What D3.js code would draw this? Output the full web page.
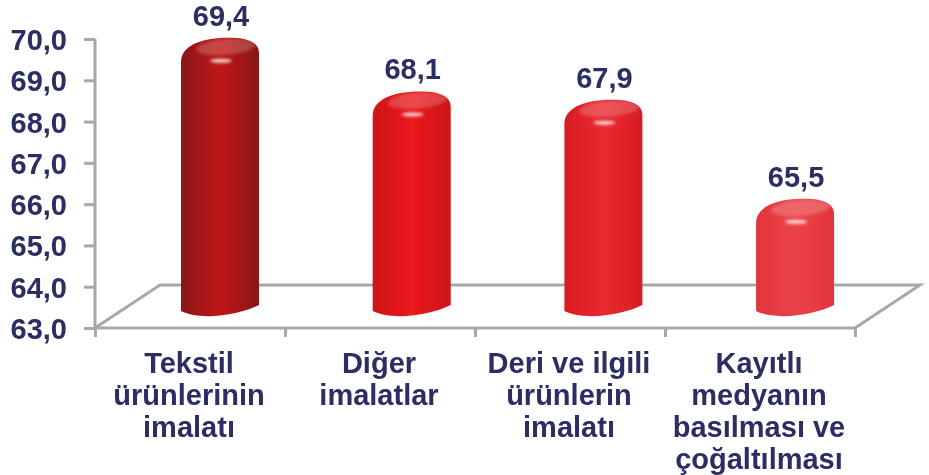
<!DOCTYPE html>
<html>
<head>
<meta charset="utf-8">
<script src="https://cdn.jsdelivr.net/npm/d3@7"></script>
<style>
  html, body { margin: 0; padding: 0; background: #fff; }
  svg { display: block; }
  text { font-family: "Liberation Sans", Arial, sans-serif; font-weight: bold; fill: #2a2d63; }
</style>
</head>
<body>
<div id="chart"></div>
<script>
var categories = [
  ["Tekstil", "ürünlerinin", "imalatı"],
  ["Diğer", "imalatlar"],
  ["Deri ve ilgili", "ürünlerin", "imalatı"],
  ["Kayıtlı", "medyanın", "basılması ve", "çoğaltılması"]
];
var values = [69.4, 68.1, 67.9, 65.5];
var valueLabels = ["69,4", "68,1", "67,9", "65,5"];
var yTicks = [63, 64, 65, 66, 67, 68, 69, 70];
var edgeColors = ["#8a1512", "#cc1216", "#d81c22", "#e2353b"];
var midColors = ["#bf1717", "#ea1a1e", "#e92a30", "#ea4249"];

var width = 929, height = 475;
var plotLeft = 95, plotRight = 855, plotTop = 39, plotBottom = 328;
var depthX = 65, depthY = 43;
var barWidth = 78;
var axisColor = "#a8a8a8";
var fontSize = "29px";

var svg = d3.select("#chart").append("svg")
  .attr("width", width)
  .attr("height", height);

var defs = svg.append("defs");

// user space filters, a straight line has an empty bounding box.
// region is oversized since the ticks are drawn in translated groups
function addBlur(id, amount) {
  defs.append("filter").attr("id", id)
    .attr("filterUnits", "userSpaceOnUse")
    .attr("x", -1000).attr("y", -1000)
    .attr("width", 3000).attr("height", 3000)
    .append("feGaussianBlur").attr("stdDeviation", amount);
}
addBlur("soft", 0.7);
addBlur("softer", 1.6);
addBlur("textSoft", 0.5);

var x = d3.scaleBand().domain(d3.range(categories.length)).range([plotLeft, plotRight]);
var y = d3.scaleLinear().domain([63, 70]).range([plotBottom, plotTop]);

// floor
svg.append("path")
  .attr("filter", "url(#soft)")
  .attr("fill", "none")
  .attr("stroke", axisColor)
  .attr("stroke-width", 3)
  .attr("d", d3.line()([
    [plotLeft, plotBottom], [plotLeft + depthX, plotBottom - depthY],
    [plotRight + depthX, plotBottom - depthY], [plotRight, plotBottom]
  ]));

// axes
var axisY = d3.axisLeft(y).tickValues(yTicks).tickSize(11)
  .tickFormat(function(d) { return d3.format(".1f")(d).replace(".", ","); });
var gy = svg.append("g").attr("transform", "translate(" + plotLeft + ",0)").call(axisY);

var axisX = d3.axisBottom(d3.scaleLinear().domain([0, 4]).range([plotLeft, plotRight]))
  .tickValues(d3.range(5)).tickSize(9).tickFormat("");
var gx = svg.append("g").attr("transform", "translate(0," + plotBottom + ")").call(axisX);

gy.selectAll(".domain").attr("d", "M0," + plotTop + "V" + plotBottom);
gx.selectAll(".domain").attr("d", "M" + plotLeft + ",0H" + plotRight);
[gy, gx].forEach(function(g) {
  g.selectAll(".domain, line").attr("stroke", axisColor).attr("stroke-width", 3).attr("filter", "url(#soft)");
});
gy.selectAll("text")
  .style("font-size", fontSize)
  .style("font-family", '"Liberation Sans", Arial, sans-serif')
  .style("font-weight", "bold")
  .style("fill", "#2a2d63")
  .attr("filter", "url(#textSoft)")
  .attr("x", -28)
  .attr("dy", "0.36em");

// cylinders
var bars = svg.selectAll("g.bar").data(values).enter().append("g")
  .attr("class", "bar")
  .attr("filter", "url(#soft)");

values.forEach(function(v, i) {
  var g = defs.append("linearGradient").attr("id", "grad" + i);
  g.append("stop").attr("offset", "0%").attr("stop-color", edgeColors[i]);
  g.append("stop").attr("offset", "50%").attr("stop-color", midColors[i]);
  g.append("stop").attr("offset", "100%").attr("stop-color", edgeColors[i]);
});

function cx(i) { return x(i) + x.bandwidth() / 2 + 30 + i * 1.7; }

bars.append("path")
  .attr("fill", function(d, i) { return "url(#grad" + i + ")"; })
  .attr("d", function(d, i) {
    var x0 = cx(i) - barWidth / 2, x1 = cx(i) + barWidth / 2;
    var sh = y(d) - 2;
    var p = d3.path();
    p.moveTo(x0, 311);
    p.lineTo(x0, sh);
    p.bezierCurveTo(x0, sh - 14, x0 + 16, sh - 24, x0 + 48, sh - 24);
    p.bezierCurveTo(x1 - 8, sh - 24, x1, sh - 18, x1, sh - 8);
    p.lineTo(x1, 305);
    p.bezierCurveTo(x1 - 20, 315, x0 + 20, 321, x0, 311);
    p.closePath();
    return p.toString();
  });

// lighter cap
bars.append("ellipse")
  .attr("fill", "#ffffff")
  .attr("fill-opacity", 0.2)
  .attr("filter", "url(#softer)")
  .attr("cx", function(d, i) { return cx(i) + 6; })
  .attr("cy", function(d) { return y(d) - 17; })
  .attr("rx", 30)
  .attr("ry", 8)
  .attr("transform", function(d, i) {
    return "rotate(-5," + (cx(i) + 6) + "," + (y(d) - 17) + ")";
  });

// highlight
bars.append("ellipse")
  .attr("fill", "#ffffff")
  .attr("fill-opacity", 0.8)
  .attr("filter", "url(#softer)")
  .attr("cx", function(d, i) { return cx(i) + 1; })
  .attr("cy", function(d) { return y(d) - 3; })
  .attr("rx", 11)
  .attr("ry", 2);

// value labels
svg.selectAll("text.value").data(valueLabels).enter().append("text")
  .attr("class", "value")
  .attr("text-anchor", "middle")
  .attr("filter", "url(#textSoft)")
  .attr("x", function(d, i) { return cx(i) + 1; })
  .attr("y", function(d, i) { return y(values[i]) - 38; })
  .style("font-size", fontSize)
  .text(function(d) { return d; });

// category labels
categories.forEach(function(lines, i) {
  var t = svg.append("text")
    .attr("text-anchor", "middle")
    .attr("filter", "url(#textSoft)")
    .style("font-size", fontSize);
  lines.forEach(function(line, j) {
    t.append("tspan")
      .attr("x", x(i) + x.bandwidth() / 2 - 1)
      .attr("y", 373 + j * 32)
      .text(line);
  });
});
</script>
</body>
</html>
